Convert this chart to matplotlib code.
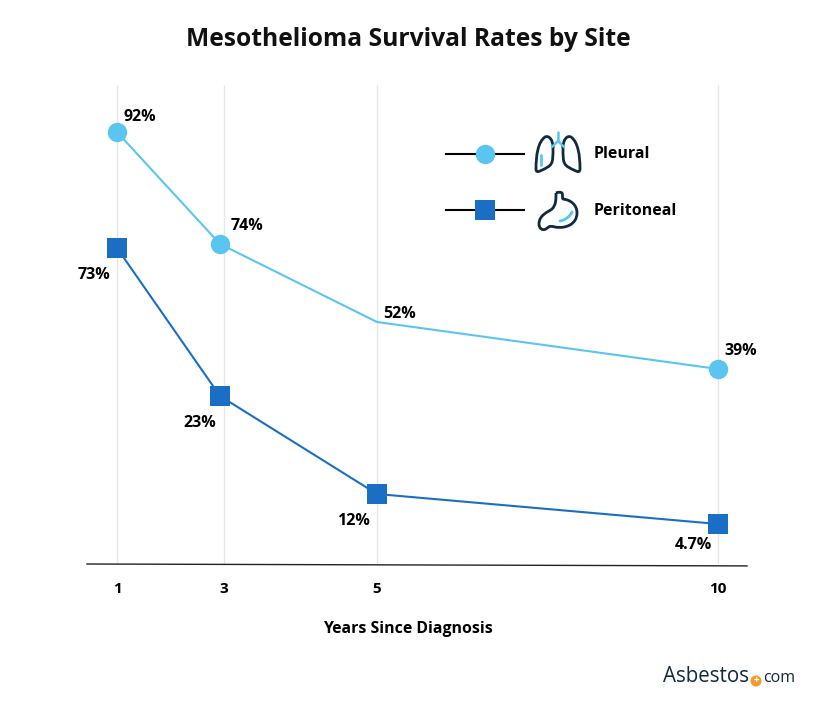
import numpy as np
from matplotlib import pyplot as plt
from matplotlib.path import Path
from matplotlib.patches import PathPatch, Circle

plt.rcParams["font.family"] = ["Open Sans", "DejaVu Sans"]

#+++++ data
years = [1, 3, 5, 10]
tick_labels = ["1", "3", "5", "10"]
pleural = [92, 74, 52, 39]
peritoneal = [73, 23, 12, 4.7]
pleural_labels = ["92%", "74%", "52%", "39%"]
peritoneal_labels = ["73%", "23%", "12%", "4.7%"]
#-----

#+++++ the source chart has uneven axes, so both scales are piecewise
x_knots = [0, 1, 3, 5, 10, 11]
x_px = [87, 117, 220, 377, 718, 747]
y_knots = [0, 4.7, 12, 23, 39, 52, 73, 74, 92, 100]
y_px = [564, 524, 494, 396, 369, 322, 248, 244, 132, 85]
y_px = [-p for p in y_px]

def x_fwd(v):
    return np.interp(v, x_knots, x_px)
def x_inv(v):
    return np.interp(v, x_px, x_knots)
def y_fwd(v):
    return np.interp(v, y_knots, y_px)
def y_inv(v):
    return np.interp(v, y_px, y_knots)
#-----

W, H = 816, 703
light = "#5bc5f2"
dark = "#1a6fc4"
navy = "#0f2b3d"

fig = plt.figure(figsize=(W/100, H/100), dpi=100)
ax = fig.add_axes([87/W, 1 - 564/H, 660/W, 479/H])
ax.set_xscale("function", functions=(x_fwd, x_inv))
ax.set_yscale("function", functions=(y_fwd, y_inv))
ax.set_xlim(0, 11)
ax.set_ylim(0, 100)

# gridline for year 3 sits a little right of its marker in the original
grid_x = [1, 3.05, 5, 10]
ax.vlines(grid_x, 0, 100, color="#e6e6e6", lw=1, zorder=1)

ax.plot(years, pleural, color=light, lw=1.5, zorder=3)
ax.plot(years, peritoneal, color=dark, lw=1.5, marker="s", ms=14, mew=0, zorder=3)
# the 5 year point of the pleural line has no marker
ax.plot(years, pleural, ls="none", color=light, marker="o", ms=14, mew=0,
        markevery=[0, 1, 3], zorder=3)

opts = dict(textcoords="offset pixels", ha="center", va="center",
            fontsize=11.5, fontweight="bold", color="black")
for x, y, s, off in zip(years, pleural, pleural_labels,
                        [(23, 15), (27, 18), (23, 8), (23, 18)]):
    ax.annotate(s, (x, y), xytext=off, **opts)
for x, y, s, off in zip(years, peritoneal, peritoneal_labels,
                        [(-23, -27), (-20, -27), (-24, -27), (-25, -21)]):
    ax.annotate(s, (x, y), xytext=off, **opts)

ax.set_yticks([])
ax.set_xticks(grid_x, tick_labels, fontsize=11, fontweight="bold")
ax.xaxis.set_minor_locator(plt.NullLocator())
ax.yaxis.set_minor_locator(plt.NullLocator())
ax.tick_params(axis="x", length=0, pad=13)
for s in ax.spines.values():
    s.set_visible(False)
ax.patch.set_alpha(0)
# baseline drifts down about 2px from left to right
ax.plot([0, 1], [0, -0.004], transform=ax.transAxes, color="#222222", lw=1,
        clip_on=False, zorder=2)

#+++++ overlay in pixel coordinates for title, legend, icons and logo
ov = fig.add_axes([0, 0, 1, 1], zorder=5)
ov.set_xlim(0, W)
ov.set_ylim(H, 0)
ov.axis("off")

ov.text(408, 40, "Mesothelioma Survival Rates by Site", ha="center", va="center",
        fontsize=17.7, fontweight="bold", color="#111111")
ov.text(408, 629, "Years Since Diagnosis", ha="center", va="center",
        fontsize=11.4, fontweight="bold", color="black")

ov.plot([446, 524], [154, 154], color="black", lw=1.5)
ov.plot([485], [154], marker="o", ms=14, mew=0, color=light)
ov.plot([446, 524], [210, 210], color="black", lw=1.5)
ov.plot([485], [210], marker="s", ms=14, mew=0, color=dark)
ov.text(594, 154, "Pleural", va="center", fontsize=11.5, fontweight="bold")
ov.text(594, 211, "Peritoneal", va="center", fontsize=11.5, fontweight="bold")

M, L, C, Z = Path.MOVETO, Path.LINETO, Path.CURVE4, Path.CLOSEPOLY
def lung(c, s):
    v = [(c - s*5, 147), (c - s*5, 140), (c - s*9, 135), (c - s*13, 137),
         (c - s*20, 142), (c - s*22, 155), (c - s*22, 169),
         (c - s*22, 172), (c - s*20, 172), (c - s*18, 171),
         (c - s*5, 165), (c - s*5, 165), (c - s*5, 147)]
    code = [M, C, C, C, C, C, C, C, C, C, C, C, L]
    return Path(v, code)
for s in (1, -1):
    ov.add_patch(PathPatch(lung(558, s), fc="none", ec=navy, lw=2, capstyle="round"))
ov.plot([558, 558], [132, 141], color=light, lw=1.8, solid_capstyle="round")
ov.plot([552, 558, 564], [147, 141, 147], color=light, lw=1.8, solid_capstyle="round")
ov.plot([541, 541], [155, 165], color=light, lw=2, solid_capstyle="round")

stomach = Path([(556, 193), (558, 192), (561, 192), (562, 193), (563, 195), (562, 198), (563, 199),
                (571, 200), (577, 205), (577, 213), (577, 224), (566, 229), (555, 227),
                (548, 225), (548, 228), (546, 229), (542, 231), (539, 228), (539, 224),
                (539, 215), (548, 212), (552, 209), (556, 205), (556, 200), (556, 193)],
               [M, C, C, C, C, C, C, C, C, C, C, C, C, C, C, C, C, C, C, C, C, C, C, C, C])
ov.add_patch(PathPatch(stomach, fc="none", ec=navy, lw=2))
ov.add_patch(PathPatch(Path([(560, 221), (566, 220), (570, 216), (572, 212)], [M, C, C, C]),
                       fc="none", ec=light, lw=2, capstyle="round"))

ov.text(663, 676, "Asbestos", va="center", fontsize=14.8, color=navy, fontweight="medium")
ov.add_patch(Circle((756, 681), 5.5, fc="#f29a2e", ec="none"))
ov.text(756, 680.5, "+", ha="center", va="center", fontsize=7, fontweight="bold", color="white")
ov.text(763, 677.5, "com", va="center", fontsize=11.5, color=navy, fontweight="medium")

fig.savefig("out.png", dpi=100)
